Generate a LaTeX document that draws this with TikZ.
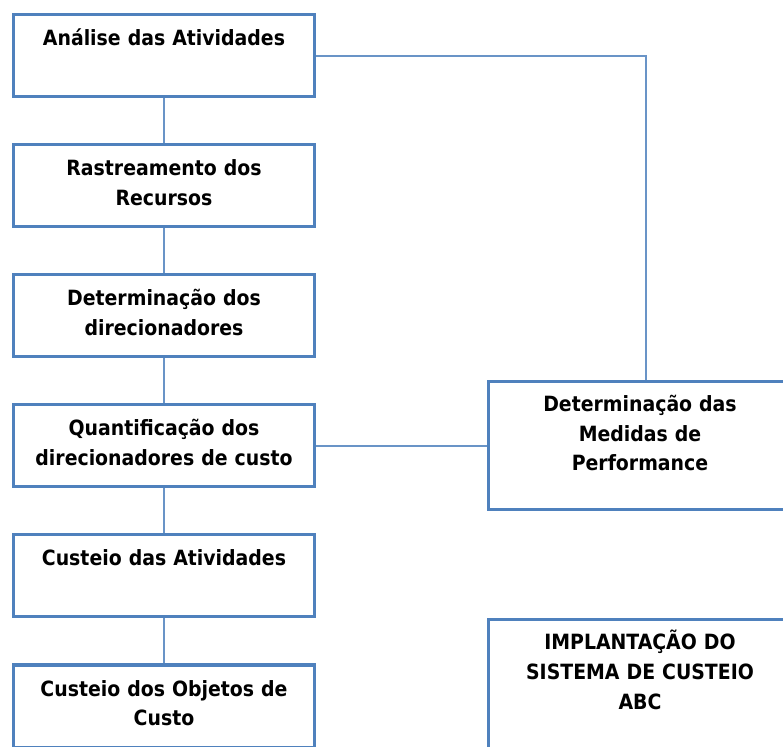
\documentclass[tikz,border=0pt]{standalone}
\usepackage{fontspec}
\setmainfont{DejaVu Sans Condensed}
\usepackage{xcolor}
\usepackage{tikz}
\usetikzlibrary{positioning}
\definecolor{abcblue}{RGB}{79,129,189}
\tikzset{abc-line/.style={line width=1.6pt, draw=abcblue!85}}
\tikzset{abc-box/.style={draw=abcblue, line width=3pt, inner xsep=5.5pt, inner ysep=0, text width=290pt, align=center, text height=31pt, text depth=51pt, font=\bfseries\fontsize{21}{29.5}\selectfont}}
\tikzset{abc-bigbox/.style={abc-box, text height=30pt, text depth=98pt, text width=292pt}}
\begin{document}
\begin{tikzpicture}[x=1pt, y=1pt]
            \clip (0,0) rectangle (783,746);

            \node[abc-box] (analise) at (164,690) {Análise das Atividades};
            \node[abc-box, below=45pt of analise] (rastreamento) {Rastreamento dos\\Recursos};
            \node[abc-box, below=45pt of rastreamento] (direcionadores) {Determinação dos\\direcionadores};
            \node[abc-box, below=45pt of direcionadores] (quantificacao) {Quantificação dos\\direcionadores de custo};
            \node[abc-box, below=45pt of quantificacao] (atividades) {Custeio das Atividades};
            \node[abc-box, below=45pt of atividades] (objetos) {Custeio dos Objetos de\\Custo};

            \node[abc-bigbox, right=171pt of quantificacao] (medidas) {Determinação das\\Medidas de\\Performance};
            \node[abc-bigbox, below=107pt of medidas] (implantacao) {IMPLANTAÇÃO DO\\SISTEMA DE CUSTEIO\\ABC};

            \draw[abc-line] (analise) -- (rastreamento);
            \draw[abc-line] (rastreamento) -- (direcionadores);
            \draw[abc-line] (direcionadores) -- (quantificacao);
            \draw[abc-line] (quantificacao) -- (atividades);
            \draw[abc-line] (atividades) -- (objetos);

            \draw[abc-line] (analise.east) -| ([xshift=6pt]medidas.north);
            \draw[abc-line] (quantificacao.east) -- (quantificacao.east -| medidas.west);

        \end{tikzpicture}
\end{document}
